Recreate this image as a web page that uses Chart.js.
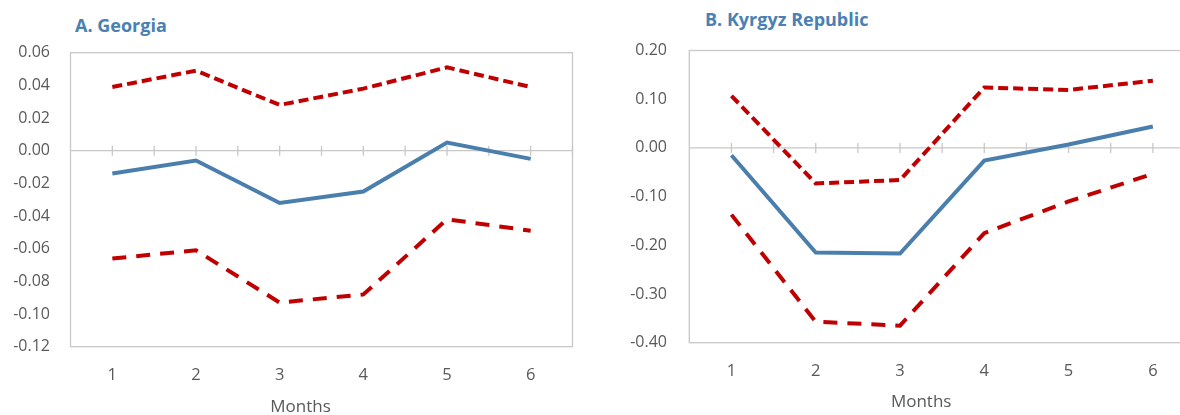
<!DOCTYPE html>
<html>
<head>
<meta charset="utf-8">
<script src="https://cdn.jsdelivr.net/npm/chart.js@4/dist/chart.umd.min.js"></script>
<style>
  html, body { margin: 0; padding: 0; background: #ffffff; overflow: hidden; }
  body { width: 1180px; height: 415px; position: relative; }
  .panel { position: absolute; top: 0; }
  .panel-title {
    position: absolute;
    font-family: "Open Sans", "Noto Sans", sans-serif;
    font-weight: 700;
    font-size: 18px;
    color: #4a80b2;
    white-space: nowrap;
    line-height: 20px;
  }
</style>
</head>
<body>
<div class="panel-title" style="left:75px; top:15px;">A. Georgia</div>
<div class="panel-title" style="left:705px; top:9px;">B. Kyrgyz Republic</div>
<canvas id="georgia" class="panel" width="590" height="415" style="left:0px;"></canvas>
<canvas id="kyrgyz" class="panel" width="620" height="415" style="left:590px;"></canvas>
<script>
// Months after the shock
const months = ['1', '2', '3', '4', '5', '6'];

// Georgia: point estimate and confidence bands
const georgiaUpper = [0.039, 0.049, 0.028, 0.038, 0.051, 0.039];
const georgiaEstimate = [-0.014, -0.006, -0.032, -0.025, 0.005, -0.005];
const georgiaLower = [-0.066, -0.061, -0.093, -0.088, -0.042, -0.049];
const georgiaTicks = [-0.12, -0.10, -0.08, -0.06, -0.04, -0.02, 0.00, 0.02, 0.04, 0.06];

// Kyrgyz Republic: point estimate and confidence bands
const kyrgyzUpper = [0.107, -0.073, -0.066, 0.124, 0.119, 0.138];
const kyrgyzEstimate = [-0.015, -0.215, -0.217, -0.026, 0.007, 0.044];
const kyrgyzLower = [-0.137, -0.357, -0.365, -0.175, -0.110, -0.053];
const kyrgyzTicks = [-0.40, -0.30, -0.20, -0.10, 0.00, 0.10, 0.20];

const FONT = '"Open Sans", "Noto Sans", sans-serif';
const TEXT = '#595959';
const FRAME = '#c8c8c8';
const BLUE = '#4a7fad';
const RED = '#c00000';

// Frame around the plot area, zero line with tick marks, and the x-axis title
const framePlugin = {
  id: 'frame',
  beforeDatasetsDraw(chart, args, opts) {
    const { ctx, chartArea: a, scales } = chart;
    const x = scales.x, y = scales.y;
    ctx.save();
    ctx.strokeStyle = FRAME;
    ctx.lineWidth = 1.3;
    ctx.strokeRect(a.left, a.top, a.right - a.left, a.bottom - a.top);
    const y0 = y.getPixelForValue(0);
    ctx.beginPath();
    ctx.moveTo(a.left, y0);
    ctx.lineTo(a.right, y0);
    for (let i = 0; i < months.length; i++) {
      const c = x.getPixelForValue(i);
      ctx.moveTo(c, y0 - 5); ctx.lineTo(c, y0 + 5);
      if (i < months.length - 1) {
        const b = (c + x.getPixelForValue(i + 1)) / 2;
        ctx.moveTo(b, y0 - 5); ctx.lineTo(b, y0 + 5);
      }
    }
    ctx.moveTo(a.right, y0 - 5); ctx.lineTo(a.right, y0 + 5);
    ctx.stroke();
    ctx.restore();
  },
  afterDraw(chart, args, opts) {
    const { ctx, chartArea: a } = chart;
    ctx.save();
    ctx.fillStyle = TEXT;
    ctx.font = '17px ' + FONT;
    ctx.textAlign = 'center';
    ctx.textBaseline = 'middle';
    ctx.fillText(opts.title, (a.left + a.right) / 2 + opts.shift, opts.titleY);
    ctx.restore();
  }
};

function makePanel(id, upper, estimate, lower, ticks, geo) {
  const yMin = ticks[0], yMax = ticks[ticks.length - 1];
  const step = ticks[1] - ticks[0];
  return new Chart(document.getElementById(id), {
    type: 'line',
    data: {
      labels: months,
      datasets: [
        { data: upper, borderColor: RED, borderWidth: 4, borderDash: geo.upperDash, borderCapStyle: 'butt', pointRadius: 0, tension: 0, fill: false },
        { data: estimate, borderColor: BLUE, borderWidth: 4, pointRadius: 0, tension: 0, fill: false },
        { data: lower, borderColor: RED, borderWidth: 4, borderDash: geo.lowerDash, borderCapStyle: 'butt', pointRadius: 0, tension: 0, fill: false }
      ]
    },
    options: {
      responsive: false,
      animation: false,
      devicePixelRatio: 1,
      layout: { padding: { top: geo.top, right: geo.right, left: 0, bottom: 0 } },
      plugins: {
        legend: { display: false },
        tooltip: { enabled: false },
        frame: { title: 'Months', shift: geo.titleShift, titleY: geo.titleY }
      },
      scales: {
        x: {
          type: 'category',
          offset: true,
          grid: { display: false, drawTicks: false },
          border: { display: false },
          ticks: { color: TEXT, font: { family: FONT, size: 16.5, lineHeight: '18px' }, padding: geo.xPad, maxRotation: 0 },
          afterFit(scale) { scale.height = geo.xHeight; }
        },
        y: {
          min: yMin,
          max: yMax,
          grid: { display: false, drawTicks: false },
          border: { display: false },
          ticks: {
            stepSize: step,
            color: TEXT,
            font: { family: FONT, size: 16 },
            padding: geo.yPad,
            callback: (v) => Number(v).toFixed(2)
          },
          afterFit(scale) { scale.width = geo.yWidth; }
        }
      }
    },
    plugins: [framePlugin]
  });
}

makePanel('georgia', georgiaUpper, georgiaEstimate, georgiaLower, georgiaTicks, {
  top: 52.7, right: 17.5, yWidth: 70.5, yPad: 20.5,
  xHeight: 68.3, xPad: 20, titleY: 407, titleShift: -21,
  upperDash: [10, 5], lowerDash: [14, 10]
});

makePanel('kyrgyz', kyrgyzUpper, kyrgyzEstimate, kyrgyzLower, kyrgyzTicks, {
  top: 50.5, right: 15, yWidth: 99.3, yPad: 22.3,
  xHeight: 72.3, xPad: 20, titleY: 401.7, titleShift: -21,
  upperDash: [10, 5], lowerDash: [14, 10]
});
</script>
</body>
</html>
